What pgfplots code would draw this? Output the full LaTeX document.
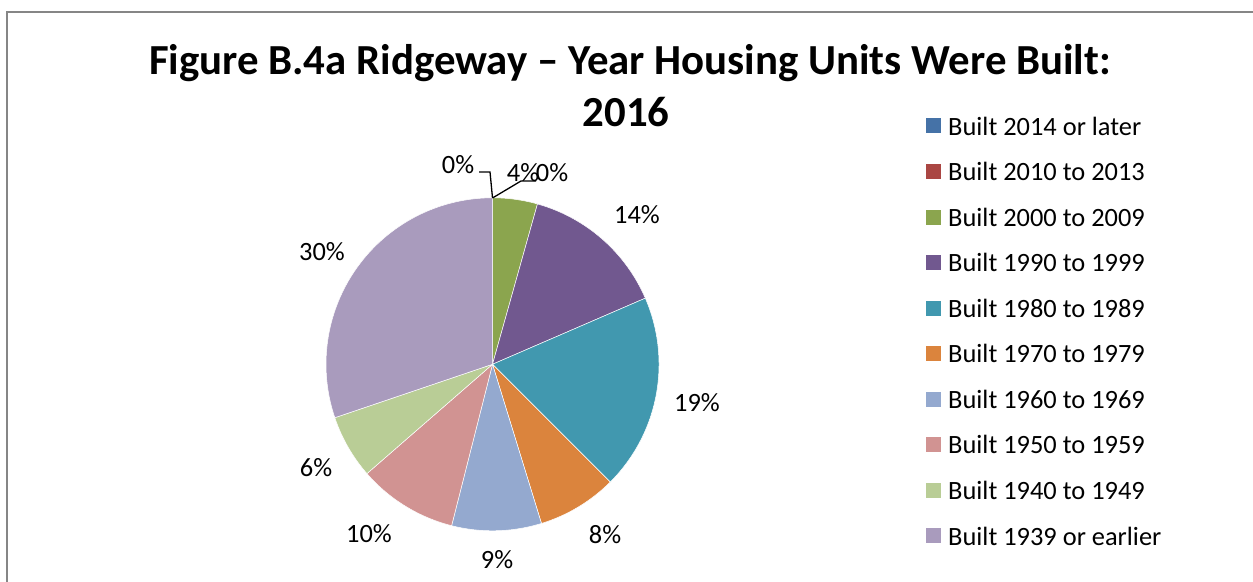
\documentclass[border=0pt]{standalone}
\usepackage{pgfplots}
\pgfplotsset{compat=1.18}
\usepackage{fontspec}
\setmainfont{Carlito}
\definecolor{s1}{HTML}{4572A7}
\definecolor{s2}{HTML}{AA4643}
\definecolor{s3}{HTML}{8BA54E}
\definecolor{s4}{HTML}{71588F}
\definecolor{s5}{HTML}{4198AF}
\definecolor{s6}{HTML}{DB843D}
\definecolor{s7}{HTML}{94A9CF}
\definecolor{s8}{HTML}{D19392}
\definecolor{s9}{HTML}{B9CD96}
\definecolor{s10}{HTML}{A99BBD}
\definecolor{frame}{HTML}{868686}
\newcommand\cum{0}
\newcommand\slice[2]{%
  \ifdim #1pt>0pt
    \pgfmathsetmacro\aS{90-3.6*\cum}%
    \pgfmathsetmacro\aE{90-3.6*(\cum+#1)}%
    \edef\doit{\noexpand\addplot[fill=#2, draw=white, line width=0.5bp, domain=\aE:\aS, samples=90] ({492.5+166.5*cos(x)},{217.7+166.5*sin(x)}) -- (axis cs:492.5,217.7) -- cycle;}%
    \doit
  \fi
  \pgfmathsetmacro\tmp{\cum+#1}\xdef\cum{\tmp}}
\newcommand\lfont{\fontsize{26.5}{31}\selectfont}
\begin{document}
\begin{tikzpicture}[x=1bp,y=1bp]
\path[use as bounding box] (0,0) rectangle (1253,582);
\begin{axis}[at={(0,0)}, anchor=south west, scale only axis, width=1253bp, height=582bp,
  xmin=0, xmax=1253, ymin=0, ymax=582, hide axis, clip=false]
% values in percent: 2014+, 2010-13, 2000-09, 1990-99, 1980-89, 1970-79, 1960-69, 1950-59, 1940-49, <=1939
\slice{0}{s1}
\slice{0}{s2}
\slice{4.35}{s3}
\slice{14.15}{s4}
\slice{19.0}{s5}
\slice{7.75}{s6}
\slice{8.7}{s7}
\slice{9.65}{s8}
\slice{6.2}{s9}
\slice{30.2}{s10}
% leader lines
\draw[black, line width=1.3bp] (479,410) -- (490,410) -- (492.5,384);
\draw[black, line width=1.3bp] (492.5,384) -- (521,401) -- (536,401);
% data labels
\node[font=\lfont] at (458,417) {0\%};
\node[font=\lfont] at (523,409) {4\%};
\node[font=\lfont] at (552,409) {0\%};
\node[font=\lfont] at (637,367) {14\%};
\node[font=\lfont] at (697,179) {19\%};
\node[font=\lfont] at (605,47) {8\%};
\node[font=\lfont] at (497,22) {9\%};
\node[font=\lfont] at (369,48) {10\%};
\node[font=\lfont] at (316,114) {6\%};
\node[font=\lfont] at (322,330) {30\%};
\end{axis}
% frame
\draw[frame, line width=2bp] (7,0) -- (7,569.5) -- (1253,569.5);
% title
\node[anchor=base, font=\fontsize{43}{52}\selectfont\bfseries] at (630,507) {Figure B.4a Ridgeway -- Year Housing Units Were Built:};
\node[anchor=base, font=\fontsize{43}{52}\selectfont\bfseries] at (626,455) {2016};
% legend
\foreach \c/\t [count=\i from 0] in {s1/Built 2014 or later, s2/Built 2010 to 2013, s3/Built 2000 to 2009, s4/Built 1990 to 1999, s5/Built 1980 to 1989, s6/Built 1970 to 1979, s7/Built 1960 to 1969, s8/Built 1950 to 1959, s9/Built 1940 to 1949, s10/Built 1939 or earlier}{
  \pgfmathsetmacro\yy{582-126-45.55*\i}
  \fill[\c] (926,\yy-7.5) rectangle (941,\yy+7.5);
  \node[anchor=west, inner sep=0pt, font=\lfont] at (948,\yy) {\t};
}
\end{tikzpicture}
\end{document}
